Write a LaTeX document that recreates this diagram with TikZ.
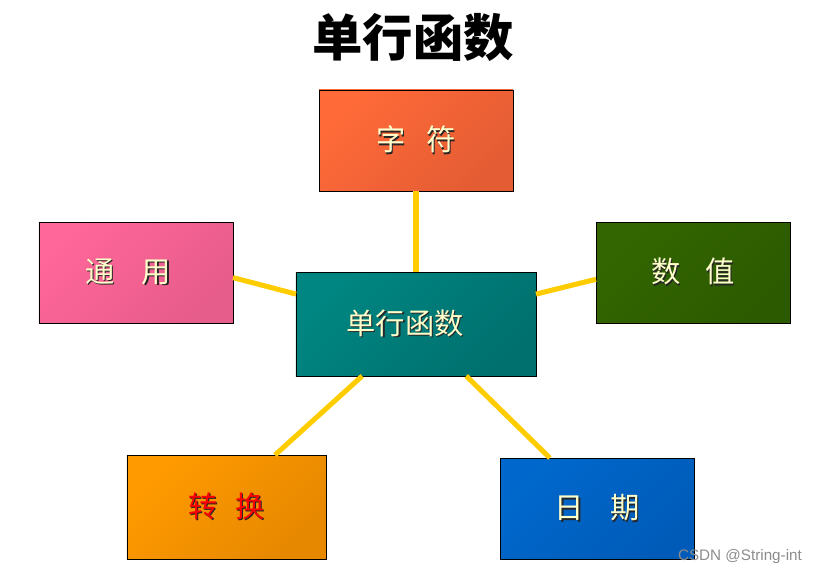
\documentclass[tikz,border=0pt]{standalone}
\usepackage{fontspec}
\usepackage{xcolor}
\usepackage{tikz}
\usetikzlibrary{positioning}
\newfontfamily\cjk{Noto Sans CJK SC}
\setsansfont{Liberation Sans}
\definecolor{cream}{HTML}{FFFFCC}
\definecolor{linkyellow}{HTML}{FFCC00}
\definecolor{tealA}{HTML}{008682}
\definecolor{tealB}{HTML}{00706E}
\definecolor{orangeA}{HTML}{FF6A38}
\definecolor{orangeB}{HTML}{E45C34}
\definecolor{pinkA}{HTML}{FF6699}
\definecolor{pinkB}{HTML}{E65C8A}
\definecolor{greenA}{HTML}{336600}
\definecolor{greenB}{HTML}{2C5A00}
\definecolor{amberA}{HTML}{FF9A00}
\definecolor{amberB}{HTML}{E68800}
\definecolor{blueA}{HTML}{0068CC}
\definecolor{blueB}{HTML}{005BB8}
\newcommand{\shtext}[2]{\rlap{\kern1.3pt\raisebox{-1.3pt}{\color{black!85}#2}}{\color{#1}#2}}

\begin{document}
\begin{tikzpicture}[
  x=0.03cm, y=-0.03cm,
  box/.style={draw=black, line width=0.8pt, outer sep=0pt, inner sep=0pt, align=center,
    minimum width=5.82cm, minimum height=3.03cm, font=\cjk\fontsize{25}{25}\selectfont},
  grad/.style 2 args={top color=#1, bottom color=#2, shading angle=45},
  link/.style={line width=4.3pt, draw=linkyellow}
]
\useasboundingbox (0,0) rectangle (819,576);

\node (title) at (413,37) {\cjk\bfseries\fontsize{43}{43}\selectfont 单行函数};

\node[box, grad={tealA}{tealB}, minimum width=7.2cm, minimum height=3.12cm] (center) at (416,324)
  {\shtext{cream}{单行函数}\hspace{0.66cm}};
\node[box, grad={orangeA}{orangeB}, above=2.43cm of center] (zifu)
  {\shtext{cream}{字\hspace{0.7em}符}};
\node[box, grad={pinkA}{pinkB}] (tongyong) at (136,272.5)
  {\shtext{cream}{通\hspace{0.93em}用}\hspace{0.48cm}};
\node[box, grad={greenA}{greenB}] (shuzhi) at (693,272.5)
  {\shtext{cream}{数\hspace{0.85em}值}};
\node[box, grad={amberA}{amberB}, minimum width=5.97cm, minimum height=3.12cm] (zhuanhuan) at (226.5,507)
  {\shtext{red}{转\hspace{0.6em}换}};
\node[box, grad={blueA}{blueB}] (riqi) at (597,508.5)
  {\shtext{cream}{日\hspace{0.9em}期}};

\draw[link] (zifu.south) -- (center.north);
\draw[link] (tongyong.-3) -- (center.166);
\draw[link] (center.14) -- (shuzhi.184);
\draw[link] (center.224) -- (zhuanhuan.47);
\draw[link] (center.314) -- (riqi.133);

\node[anchor=east, text=black!45, font=\sffamily\fontsize{13}{13}\selectfont] (mark) at (806,557) {CSDN @String-int};
\end{tikzpicture}
\end{document}
